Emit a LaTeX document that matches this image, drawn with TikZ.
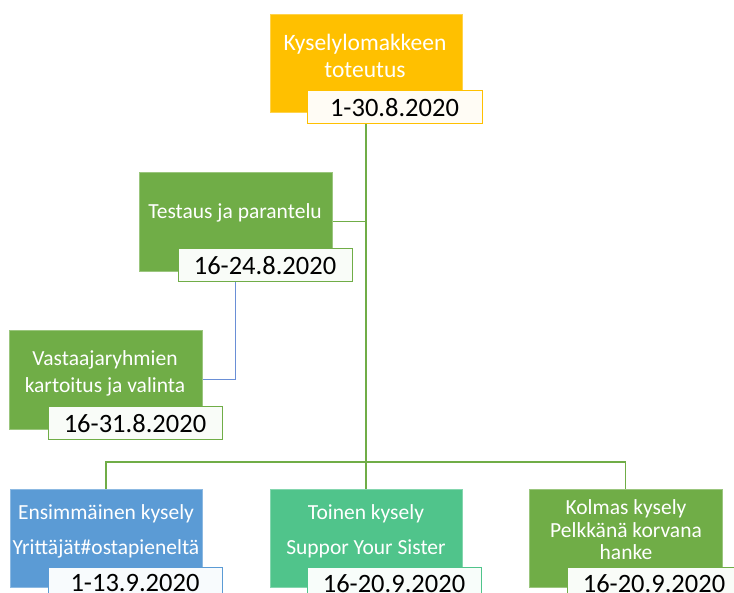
\documentclass[tikz,border=0pt]{standalone}
\usepackage{fontspec}
\setmainfont{Carlito}
\definecolor{orgorange}{HTML}{FFC000}
\definecolor{orggreen}{HTML}{70AD47}
\definecolor{orgblue}{HTML}{5B9BD5}
\definecolor{orgsea}{HTML}{50C48B}
\definecolor{linkblue}{HTML}{6A8FD6}
\tikzset{
  box/.style={draw=#1!70!white, line width=0.6pt, fill=#1, anchor=north west, inner sep=0pt, outer sep=0pt},
  datebox/.style={draw=#1, line width=1pt, fill=#1!4!white, anchor=north west, minimum width=174pt, minimum height=33pt, inner sep=0pt, outer sep=0pt, font=\fontsize{26.5}{30}\selectfont, text=black},
  boxtext/.style={text=white, align=center, inner sep=0pt, font=\fontsize{21.5}{#1}\selectfont},
  boxtext/.default=25,
  link/.style={draw=orggreen, line width=1.3pt},
}
\begin{document}
\begin{tikzpicture}[x=1pt,y=-1pt]
\useasboundingbox (0,0) rectangle (734,593);
\clip (0,0) rectangle (734,593);

% task boxes
\node[box=orgorange, minimum width=192pt, minimum height=98pt] (top) at (270,14) {};
\node[box=orggreen, minimum width=193pt, minimum height=99pt] (test) at (139,172) {};
\node[box=orggreen, minimum width=193pt, minimum height=99pt] (vast) at (9,330) {};
\node[box=orgblue, minimum width=192pt, minimum height=98pt] (ens) at (10,489) {};
\node[box=orgsea, minimum width=192pt, minimum height=98pt] (toi) at (270,489) {};
\node[box=orggreen, minimum width=193pt, minimum height=98pt] (kol) at (529,489) {};

% connectors
\coordinate (bus) at (366,462);
\draw[link] (top.south) -- (toi.north);
\draw[link] (ens.north) |- (bus) -| (kol.north);
\draw[link] (test.east) -- (test.east -| top.south);
\draw[draw=linkblue, line width=1.1pt] (test.south) |- (vast.east);

% upper boxes again, above the connector ends
\node[box=orgorange, minimum width=192pt, minimum height=98pt] at (270,14) {};
\node[box=orggreen, minimum width=193pt, minimum height=99pt] at (139,172) {};
\node[box=orggreen, minimum width=193pt, minimum height=99pt] at (9,330) {};

% box texts
\node[boxtext=27, font=\fontsize{23.5}{27}\selectfont] (toptxt) at (365,56) {Kyselylomakkeen\\toteutus};
\node[boxtext] (testtxt) at (235,213) {Testaus ja parantelu};
\node[boxtext=27] (vasttxt) at (105,373) {Vastaajaryhmien\\kartoitus ja valinta};
\node[boxtext=35] (enstxt) at (106,531) {Ensimmäinen kysely\\Yrittäjät\#ostapieneltä};
\node[boxtext=35] (toitxt) at (366,531) {Toinen kysely\\Suppor Your Sister};
\node[boxtext=22.5] (koltxt) at (626,530) {Kolmas kysely\\Pelkkänä korvana\\hanke};

% date boxes
\node[datebox=orgorange, minimum width=175pt] (topdate) at (307,91) {1-30.8.2020};
\node[datebox=orggreen] (testdate) at (178,249) {16-24.8.2020};
\node[datebox=orggreen] (vastdate) at (48,407) {16-31.8.2020};
\node[datebox=orgblue] (ensdate) at (48,567) {1-13.9.2020};
\node[datebox=orgsea] (toidate) at (307,567) {16-20.9.2020};
\node[datebox=orggreen] (koldate) at (567,567) {16-20.9.2020};
\end{tikzpicture}
\end{document}
